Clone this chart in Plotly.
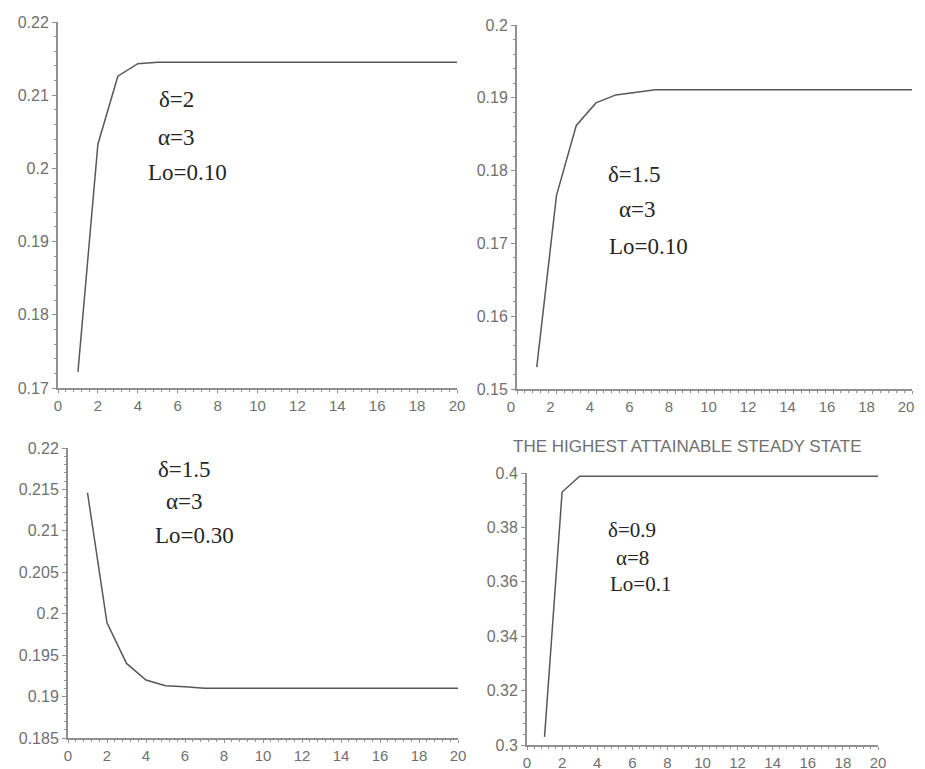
import plotly.graph_objects as go

# ---------------- data ----------------
t = list(range(1, 21))
s1 = [0.1722, 0.2033, 0.2126, 0.2143, 0.2145, 0.2145, 0.2145, 0.2145, 0.2145, 0.2145,
      0.2145, 0.2145, 0.2145, 0.2145, 0.2145, 0.2145, 0.2145, 0.2145, 0.2145, 0.2145]
s2 = [0.1530, 0.1766, 0.1862, 0.1893, 0.1904, 0.1908, 0.1911, 0.1911, 0.1911, 0.1911,
      0.1911, 0.1911, 0.1911, 0.1911, 0.1911, 0.1911, 0.1911, 0.1911, 0.1911, 0.1911]
s3 = [0.2146, 0.1989, 0.1940, 0.1920, 0.1913, 0.1912, 0.1910, 0.1910, 0.1910, 0.1910,
      0.1910, 0.1910, 0.1910, 0.1910, 0.1910, 0.1910, 0.1910, 0.1910, 0.1910, 0.1910]
s4 = [0.3030, 0.3930, 0.3988, 0.3988, 0.3988, 0.3988, 0.3988, 0.3988, 0.3988, 0.3988,
      0.3988, 0.3988, 0.3988, 0.3988, 0.3988, 0.3988, 0.3988, 0.3988, 0.3988, 0.3988]

x_ticks = [0, 2, 4, 6, 8, 10, 12, 14, 16, 18, 20]
x_labels = ["0", "2", "4", "6", "8", "10", "12", "14", "16", "18", "20"]
y1_ticks = [0.17, 0.18, 0.19, 0.20, 0.21, 0.22]
y1_labels = ["0.17", "0.18", "0.19", "0.2", "0.21", "0.22"]
y2_ticks = [0.15, 0.16, 0.17, 0.18, 0.19, 0.20]
y2_labels = ["0.15", "0.16", "0.17", "0.18", "0.19", "0.2"]
y3_ticks = [0.185, 0.19, 0.195, 0.20, 0.205, 0.21, 0.215, 0.22]
y3_labels = ["0.185", "0.19", "0.195", "0.2", "0.205", "0.21", "0.215", "0.22"]
y4_ticks = [0.30, 0.32, 0.34, 0.36, 0.38, 0.40]
y4_labels = ["0.3", "0.32", "0.34", "0.36", "0.38", "0.4"]

params1 = ["δ=2", "α=3", "Lo=0.10"]
params2 = ["δ=1.5", "α=3", "Lo=0.10"]
params3 = ["δ=1.5", "α=3", "Lo=0.30"]
params4 = ["δ=0.9", "α=8", "Lo=0.1"]
title4 = "THE HIGHEST ATTAINABLE STEADY STATE"

# ---------------- figure ----------------
W, H = 925, 769
OFF = 8  # page body margin offset
LINE = "#585858"
AXC = "#909090"
TXT = "#707070"

fig = go.Figure()
series = [s1, s2, s3, s4]
for i, s in enumerate(series):
    suf = "" if i == 0 else str(i + 1)
    fig.add_trace(go.Scatter(x=t, y=s, mode="lines", xaxis="x" + suf, yaxis="y" + suf,
                             line=dict(color=LINE, width=1.5), showlegend=False,
                             hoverinfo="skip"))

def px_dom(a, b):
    return [(a - OFF) / W, (b - OFF) / W]

def py_dom(top, bottom):
    return [1 - (bottom - OFF) / H, 1 - (top - OFF) / H]

panels = [
    dict(xd=px_dom(58, 457), yd=py_dom(22, 388), yr=[0.17, 0.22], yt=y1_ticks, yl=y1_labels, ym=0.002, sh=0),
    dict(xd=px_dom(517, 912), yd=py_dom(25, 389), yr=[0.15, 0.20], yt=y2_ticks, yl=y2_labels, ym=0.002, sh=-6),
    dict(xd=px_dom(68, 458), yd=py_dom(448, 738), yr=[0.185, 0.22], yt=y3_ticks, yl=y3_labels, ym=0.001, sh=0),
    dict(xd=px_dom(527, 878), yd=py_dom(473, 745), yr=[0.30, 0.40], yt=y4_ticks, yl=y4_labels, ym=0.004, sh=0),
]

xfont = dict(family="Liberation Sans, Arial, sans-serif", size=15, color=TXT)
yfont = dict(family="Liberation Sans, Arial, sans-serif", size=16, color=TXT)
layout = {}
for i, p in enumerate(panels):
    suf = "" if i == 0 else str(i + 1)
    layout["xaxis" + suf] = dict(
        domain=p["xd"], anchor="y" + suf, range=[0, 20], tickmode="array",
        tickvals=x_ticks, ticktext=x_labels, showgrid=False, zeroline=False,
        showline=True, linecolor=AXC, linewidth=2, ticks="outside", ticklen=3,
        tickcolor=AXC, tickfont=xfont, automargin=False, ticklabelshift=p["sh"],
        minor=dict(dtick=0.4, ticks="outside", ticklen=2, tickcolor=AXC, showgrid=False),
    )
    layout["yaxis" + suf] = dict(
        domain=p["yd"], anchor="x" + suf, range=p["yr"], tickmode="array",
        tickvals=p["yt"], ticktext=p["yl"], showgrid=False, zeroline=False,
        showline=True, linecolor=AXC, linewidth=2, ticks="outside", ticklen=4,
        tickcolor=AXC, tickfont=yfont, automargin=False,
        minor=dict(dtick=p["ym"], tick0=p["yr"][0], ticks="outside", ticklen=2,
                   tickcolor=AXC, showgrid=False),
    )

annots = []
serif = "Liberation Serif, Times New Roman, serif"
def add_params(lines, xs, ys, size):
    for txt, x, y in zip(lines, xs, ys):
        annots.append(dict(text=txt, x=(x - OFF) / W, y=1 - (y - OFF) / H,
                           xref="paper", yref="paper",
                           showarrow=False, xanchor="center", yanchor="middle",
                           font=dict(family=serif, size=size, color="#262626")))

add_params(params1, [176, 176, 187], [100, 137, 172], 23)
add_params(params2, [634, 637, 648], [174, 209, 246], 23)
add_params(params3, [184, 184, 194], [469, 501, 535], 23)
add_params(params4, [632, 632, 640], [530, 558, 584], 21)

annots.append(dict(text=title4, x=(687 - OFF) / W, y=1 - (447 - OFF) / H,
                   xref="paper", yref="paper",
                   showarrow=False, xanchor="center", yanchor="middle",
                   font=dict(family="Liberation Sans, Arial, sans-serif",
                             size=17, color=TXT)))

fig.update_layout(
    width=W, height=H, margin=dict(l=0, r=0, t=0, b=0, autoexpand=False),
    paper_bgcolor="white", plot_bgcolor="white",
    annotations=annots, **layout,
)

fig.write_html("out.html")
